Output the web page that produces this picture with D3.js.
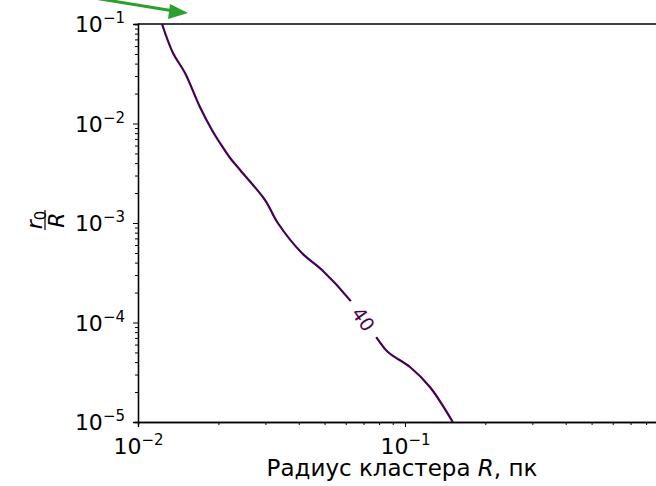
<!DOCTYPE html>
<html>
<head>
<meta charset="utf-8">
<script src="https://cdn.jsdelivr.net/npm/d3@7"></script>
<style>
    body { margin: 0; background: #fff; }
    svg { display: block; font-family: 'DejaVu Sans', sans-serif; }
</style>
</head>
<body>
<svg id="chart" width="656" height="486"></svg>
<script>
'use strict';

// contour level 40: cluster radius R (pc) vs r0/R
const contourR = [0.0123, 0.01352, 0.0150, 0.01706, 0.01892, 0.02028, 0.02213,
    0.02412, 0.02992, 0.0334, 0.0411, 0.0489, 0.0622, 0.0785, 0.0863, 0.1044,
    0.124, 0.151];
const contourRatio = [0.1, 0.0512, 0.0322, 0.01466, 0.00861, 0.00637, 0.0045,
    0.00341, 0.0017, 0.001, 0.000499, 0.000337, 0.000168, 0.0000698,
    0.0000505, 0.0000357, 0.0000225, 0.00001];
const contourLevel = 40;
const labelAt = [0.0699, 1.08e-4];

const xMajor = [1e-2, 1e-1];
const yMajor = [1e-5, 1e-4, 1e-3, 1e-2, 1e-1];
const xLabel = 'Радиус кластера ';

const svg = d3.select('#chart');

let x = d3.scaleLog().domain([1e-2, 0.95]).range([138, 666]);
let y = d3.scaleLog().domain([1e-5, 1e-1]).range([422, 24]);

function minors(majors) {
    let out = [];
    majors.forEach(function(v) {
        for (let m = 2; m <= 9; m++) out.push(v * m);
    });
    return out;
}

function sup(sel) {
    sel.each(function(d) {
        let t = d3.select(this).text('');
        t.append('tspan').text('10');
        t.append('tspan').attr('dy', -9).attr('font-size', 15)
            .text('\u2212' + Math.round(-Math.log10(d)));
    });
}

// x axis
let gx = svg.append('g').attr('transform', 'translate(0,422)');
let xMinor = minors(xMajor).filter(function(v) { return v < 0.95; });
gx.append('g').call(d3.axisBottom(x).tickValues(xMinor).tickSize(3))
    .selectAll('text').remove();
gx.append('g').attr('class', 'major')
    .call(d3.axisBottom(x).tickValues(xMajor).tickSize(5).tickPadding(6));
gx.selectAll('.major text')
    .attr('font-size', 22).attr('fill', '#000')
    .attr('font-family', 'DejaVu Sans').attr('dy', '0.95em')
    .call(sup);

// y axis
let gy = svg.append('g').attr('transform', 'translate(138,0)');
let yMinor = minors(yMajor).filter(function(v) { return v < 0.1; });
gy.append('g').call(d3.axisLeft(y).tickValues(yMinor).tickSize(3))
    .selectAll('text').remove();
gy.append('g').attr('class', 'major')
    .call(d3.axisLeft(y).tickValues(yMajor).tickSize(5).tickPadding(8));
gy.selectAll('.major text')
    .attr('font-size', 22).attr('fill', '#000')
    .attr('font-family', 'DejaVu Sans').attr('dy', '0.36em')
    .call(sup);

svg.selectAll('.domain').attr('stroke', '#000').attr('stroke-width', 1.3);
svg.selectAll('.tick line').attr('stroke', '#000').attr('stroke-width', 1);

// top and right spines
svg.append('path')
    .attr('d', 'M' + x(1e-2) + ',' + y(1e-1) + 'H' + x(0.95) + 'V' + y(1e-5))
    .attr('fill', 'none').attr('stroke', '#000').attr('stroke-width', 1.3);

// contour line
let pts = contourR.map(function(r, i) {
    return [x(r), y(contourRatio[i])];
});
svg.append('path')
    .attr('d', d3.line().curve(d3.curveCatmullRom)(pts))
    .attr('fill', 'none')
    .attr('stroke', '#440154')
    .attr('stroke-width', 2.2);

// inline contour label
let lx = x(labelAt[0]);
let ly = y(labelAt[1]);
let angle = Math.atan2(pts[13][1] - pts[12][1], pts[13][0] - pts[12][0]) *
    180 / Math.PI;
let lab = svg.append('g')
    .attr('transform', 'translate(' + lx + ',' + ly + ') rotate(' + angle + ')');
lab.append('rect')
    .attr('x', -22).attr('y', -6).attr('width', 44).attr('height', 12)
    .attr('fill', '#fff');
lab.append('text')
    .attr('text-anchor', 'middle')
    .attr('dy', '0.36em')
    .attr('font-size', 19)
    .attr('fill', '#440154')
    .text(contourLevel);

// x label
let xt = svg.append('text')
    .attr('x', 402).attr('y', 476)
    .attr('text-anchor', 'middle')
    .attr('font-size', 23)
    .attr('fill', '#000');
xt.append('tspan').text(xLabel);
xt.append('tspan').attr('font-style', 'italic').text('R');
xt.append('tspan').text(', пк');

// y label: r0 / R fraction
let yl = svg.append('g').attr('transform', 'translate(45,220) rotate(-90)');
let num = yl.append('text').attr('text-anchor', 'middle').attr('y', -3)
    .attr('font-size', 22).attr('fill', '#000');
num.append('tspan').attr('font-style', 'italic').text('r');
num.append('tspan').attr('font-size', 15).attr('dy', 4).text('0');
yl.append('line').attr('x1', -10).attr('x2', 10).attr('y1', 0).attr('y2', 0)
    .attr('stroke', '#000').attr('stroke-width', 1.2);
yl.append('text').attr('text-anchor', 'middle').attr('y', 19)
    .attr('font-size', 22).attr('font-style', 'italic').attr('fill', '#000')
    .text('R');

// green annotation arrow
const green = '#2ca02c';
svg.append('line')
    .attr('x1', 88).attr('y1', -3).attr('x2', 174).attr('y2', 11)
    .attr('stroke', green).attr('stroke-width', 3);
svg.append('path')
    .attr('d', 'M188,13 L170,4 L168,19 Z')
    .attr('fill', green);
</script>
</body>
</html>
